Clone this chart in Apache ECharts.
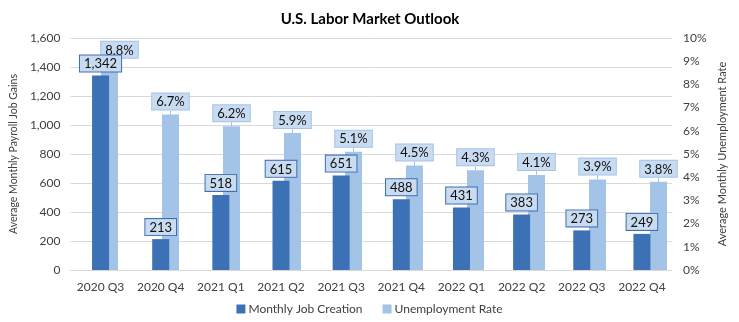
<!DOCTYPE html>
<html>
<head>
<meta charset="utf-8">
<script src="https://cdn.jsdelivr.net/npm/echarts@6/dist/echarts.min.js"></script>
<style>
  html, body { margin: 0; padding: 0; background: #fff; }
  #chart { width: 739px; height: 322px; }
</style>
</head>
<body>
<div id="chart"></div>
<script>
// Quarterly outlook values
const quarters = ['2020 Q3', '2020 Q4', '2021 Q1', '2021 Q2', '2021 Q3', '2021 Q4', '2022 Q1', '2022 Q2', '2022 Q3', '2022 Q4'];
const jobGains = [1342, 213, 518, 615, 651, 488, 431, 383, 273, 249];      // thousands per month
const unemploymentRate = [8.8, 6.7, 6.2, 5.9, 5.1, 4.5, 4.3, 4.1, 3.9, 3.8]; // percent

const FONT = 'Lato, "Open Sans", sans-serif';
const TEXT = '#404040';
const DARK = '#3d71b6';
const LIGHT = '#a3c3e7';

const chart = echarts.init(document.getElementById('chart'), null, { renderer: 'canvas' });

chart.setOption({
  backgroundColor: '#ffffff',
  textStyle: { fontFamily: FONT },
  title: {
    text: 'U.S. Labor Market Outlook',
    left: 365, top: 7, textAlign: 'center',
    textStyle: { fontFamily: FONT, fontSize: 15, fontWeight: 'bold', color: '#000' }
  },
  legend: {
    top: 303, left: 'center', padding: 0,
    icon: 'rect', itemWidth: 9, itemHeight: 9, itemGap: 20,
    textStyle: { fontFamily: FONT, fontSize: 12, color: TEXT, padding: [0, 0, 0, -2] },
    data: ['Monthly Job Creation', 'Unemployment Rate']
  },
  grid: [
    { left: 62, right: 67, top: 38, bottom: 52 },
    // second grid is shifted one bar width so the rate bars sit beside the job bars
    { left: 79, right: 50, top: 38, bottom: 52 }
  ],
  xAxis: [
    {
      type: 'category', gridIndex: 0, data: quarters,
      axisLine: { lineStyle: { color: '#d9d9d9' } },
      axisTick: { show: false },
      axisLabel: { color: TEXT, fontSize: 12, margin: 11, fontFamily: FONT, interval: 0 }
    },
    { type: 'category', gridIndex: 1, data: quarters, show: false }
  ],
  yAxis: [
    {
      type: 'value', gridIndex: 0, min: 0, max: 1600, interval: 200,
      name: 'Average Monthly Payroll Job Gains',
      nameLocation: 'middle', nameGap: 45,
      nameTextStyle: { color: TEXT, fontSize: 10.5, fontFamily: FONT },
      axisLine: { show: false }, axisTick: { show: false },
      axisLabel: {
        color: TEXT, fontSize: 12, margin: 10, fontFamily: FONT,
        formatter: v => v.toLocaleString('en-US')
      },
      splitLine: { lineStyle: { color: '#d9d9d9' } }
    },
    {
      type: 'value', gridIndex: 0, position: 'right', min: 0, max: 10, interval: 1,
      name: 'Average Monthly Unemployment Rate',
      nameLocation: 'middle', nameGap: 37,
      nameTextStyle: { color: TEXT, fontSize: 11, fontFamily: FONT },
      axisLine: { show: false }, axisTick: { show: false },
      axisLabel: { color: TEXT, fontSize: 12, margin: 11, fontFamily: FONT, formatter: '{value}%' },
      splitLine: { show: false }
    },
    { type: 'value', gridIndex: 1, min: 0, max: 10, show: false }
  ],
  series: [
    {
      name: 'Monthly Job Creation', type: 'bar',
      xAxisIndex: 0, yAxisIndex: 0, z: 4,
      data: jobGains, barWidth: 17,
      itemStyle: { color: DARK },
      label: {
        show: true, position: 'top', distance: 4,
        formatter: p => p.value.toLocaleString('en-US'),
        color: '#111', fontSize: 13, fontFamily: FONT,
        backgroundColor: '#c9dbf1', borderColor: '#3e6fb0', borderWidth: 1,
        padding: [2, 4, 1, 4]
      }
    },
    {
      name: 'Unemployment Rate', type: 'bar',
      xAxisIndex: 1, yAxisIndex: 2, z: 2,
      data: unemploymentRate, barWidth: 17,
      itemStyle: { color: LIGHT },
      label: {
        show: true, position: 'top', distance: 5,
        formatter: p => p.value.toFixed(1) + '%',
        color: '#111', fontSize: 13, fontFamily: FONT,
        backgroundColor: '#c9dbf1', borderColor: '#a3c3e7', borderWidth: 1,
        padding: [2, 4, 1, 4]
      },
      labelLine: { show: true, lineStyle: { color: '#a3c3e7', width: 1 } },
      labelLayout: p => p.dataIndex === 0 ? { dx: 10, dy: -3 } : {}
    }
  ]
});
</script>
</body>
</html>
